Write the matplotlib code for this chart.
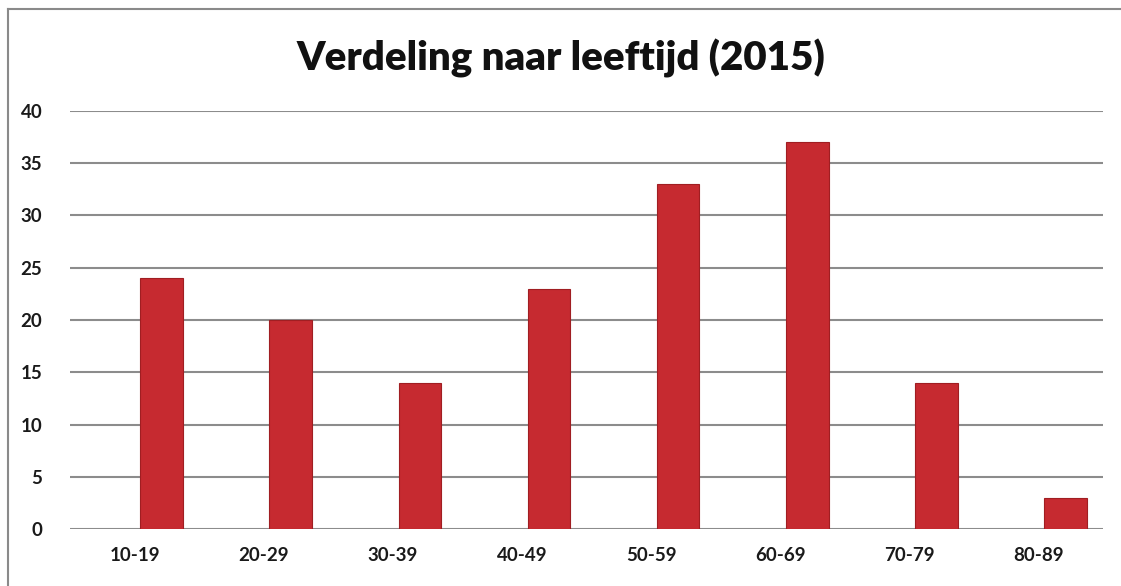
import matplotlib.pyplot as plt
import numpy as np

groups = ['10-19', '20-29', '30-39', '40-49', '50-59', '60-69', '70-79', '80-89']
counts = [24, 20, 14, 23, 33, 37, 14, 3]
yticks = [0, 5, 10, 15, 20, 25, 30, 35, 40]

fig = plt.figure(figsize=(11.21, 5.86), dpi=100)
ax = fig.add_axes([70 / 1121, 1 - 529 / 586, 1033 / 1121, 418 / 586])

x = np.arange(len(groups))
ax.bar(x + 0.21, counts, width=0.33, color='#c62a30', edgecolor='#a01e22', linewidth=0.8, zorder=3)

ax.set_xlim(-0.5, len(groups) - 0.5)
ax.set_ylim(0, 40)
ax.set_yticks(yticks)
ax.set_xticks(x)
ax.set_xticklabels(groups)
ax.grid(axis='y', color='#8c8c8c', linewidth=1.5, zorder=0)
for s in ax.spines.values():
    s.set_visible(False)
ax.tick_params(length=0, labelsize=13.5, pad=13)
ax.tick_params(axis='y', pad=20)
for lab in ax.get_xticklabels() + ax.get_yticklabels():
    lab.set_fontfamily('Lato')
    lab.set_fontweight('bold')
    lab.set_color('#1a1a1a')

fig.text(0.5, 1 - 58 / 586, 'Verdeling naar leeftijd (2015)', ha='center', va='center',
         fontsize=29, fontweight='heavy', family='Lato', color='#111111')

# outer chart border (top and left visible in scan)
fig.add_artist(plt.Line2D([8 / 1121, 1], [1 - 9 / 586, 1 - 9 / 586], color='#8a8a8a', linewidth=1.5))
fig.add_artist(plt.Line2D([8 / 1121, 8 / 1121], [0, 1 - 9 / 586], color='#8a8a8a', linewidth=1.5))

fig.savefig('out.png', dpi=100)
